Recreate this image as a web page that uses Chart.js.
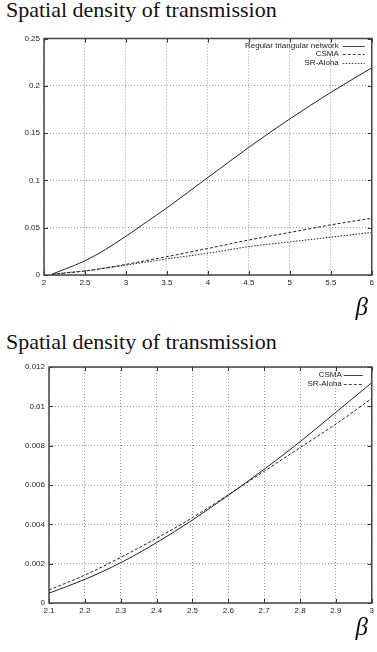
<!DOCTYPE html>
<html>
<head>
<meta charset="utf-8">
<script src="https://cdn.jsdelivr.net/npm/chart.js@4.4.0/dist/chart.umd.min.js"></script>
<style>
  html, body { margin: 0; padding: 0; background: #fff; }
  body { width: 377px; height: 652px; position: relative; overflow: hidden; }
  .titulo {
    position: absolute; left: 6px; margin: 0;
    font-family: "Liberation Serif", "Times New Roman", serif;
    font-size: 22px; font-weight: normal; line-height: 22px; color: #111;
  }
  .beta {
    position: absolute; right: 9px;
    font-family: "Liberation Serif", "Times New Roman", serif;
    font-style: italic; font-size: 25px; line-height: 25px; color: #111;
  }
  .caja { position: absolute; left: 0; width: 377px; }
</style>
</head>
<body>
<div class="titulo" style="top:-1px">Spatial density of transmission</div>
<div class="caja" style="top:28px;height:290px"><canvas id="graficaA"></canvas></div>
<div class="beta" style="top:294px">β</div>

<div class="titulo" style="top:331px">Spatial density of transmission</div>
<div class="caja" style="top:356px;height:296px"><canvas id="graficaB"></canvas></div>
<div class="beta" style="top:614px">β</div>

<script>
/* ── Datos ── */
// Gráfica superior: beta de 2 a 6
const betaA      = [2.1, 2.25, 2.5, 2.75, 3, 3.25, 3.5, 3.75, 4, 4.5, 5, 5.5, 6];
const triangular = [0.001, 0.006, 0.015, 0.027, 0.041, 0.056, 0.071, 0.087, 0.103, 0.135, 0.165, 0.193, 0.219];
const csmaA      = [0.0005, 0.002, 0.0042, 0.0075, 0.0112, 0.0153, 0.0194, 0.0237, 0.028, 0.037, 0.045, 0.053, 0.060];
const alohaA     = [0.0007, 0.0023, 0.0043, 0.0072, 0.0104, 0.0137, 0.017, 0.020, 0.023, 0.030, 0.035, 0.040, 0.045];
const xTicksA    = ['2', '2.5', '3', '3.5', '4', '4.5', '5', '5.5', '6'];
const yTicksA    = ['0', '0.05', '0.1', '0.15', '0.2', '0.25'];

// Gráfica inferior: beta de 2.1 a 3
const betaB   = [2.1, 2.2, 2.3, 2.4, 2.5, 2.6, 2.7, 2.8, 2.9, 3];
const csmaB   = [0.0005, 0.0012, 0.00205, 0.00307, 0.00422, 0.00548, 0.0068, 0.0082, 0.0097, 0.0112];
const alohaB  = [0.00066, 0.00142, 0.00232, 0.00329, 0.00434, 0.0055, 0.0067, 0.0079, 0.0091, 0.0104];
const xTicksB = ['2.1', '2.2', '2.3', '2.4', '2.5', '2.6', '2.7', '2.8', '2.9', '3'];
const yTicksB = ['0', '0.002', '0.004', '0.006', '0.008', '0.01', '0.012'];

const FUENTE = '"Liberation Sans", Arial, sans-serif';
const TINTA  = '#222';

function puntos(xs, ys) {
    return xs.map((x, i) => ({ x: x, y: ys[i] }));
}

function serie(label, xs, ys, dash) {
    return {
        label: label,
        data: puntos(xs, ys),
        borderColor: TINTA,
        borderWidth: 1,
        borderDash: dash,
        pointRadius: 0,
        fill: false,
        cubicInterpolationMode: 'monotone'
    };
}

/* ── Marco, marcas internas y leyenda estilo gnuplot ── */
const marcoGnuplot = {
    id: 'marcoGnuplot',
    afterDatasetsDraw(chart, args, opts) {
        const { ctx, chartArea: a, scales } = chart;
        ctx.save();
        // marcas hacia dentro
        ctx.strokeStyle = '#333';
        ctx.lineWidth = 1;
        ctx.setLineDash([]);
        ctx.beginPath();
        scales.x.ticks.forEach(t => {
            const px = Math.round(scales.x.getPixelForValue(t.value)) + 0.5;
            ctx.moveTo(px, a.bottom); ctx.lineTo(px, a.bottom - 4);
            ctx.moveTo(px, a.top);    ctx.lineTo(px, a.top + 4);
        });
        scales.y.ticks.forEach(t => {
            const py = Math.round(scales.y.getPixelForValue(t.value)) + 0.5;
            ctx.moveTo(a.left, py);  ctx.lineTo(a.left + 4, py);
            ctx.moveTo(a.right, py); ctx.lineTo(a.right - 4, py);
        });
        ctx.stroke();
        // marco
        ctx.strokeStyle = '#444';
        ctx.lineWidth = 1.5;
        ctx.strokeRect(a.left, a.top, a.right - a.left, a.bottom - a.top);
        // leyenda
        ctx.font = '8px ' + FUENTE;
        ctx.fillStyle = TINTA;
        ctx.textAlign = 'right';
        ctx.textBaseline = 'middle';
        chart.data.datasets.forEach((ds, i) => {
            const y = a.top + opts.arriba + i * opts.salto;
            ctx.fillText(ds.label, a.right - opts.texto, y);
            ctx.beginPath();
            ctx.lineWidth = 1;
            ctx.setLineDash(ds.borderDash || []);
            ctx.moveTo(a.right - opts.muestra[0], Math.round(y) + 0.5);
            ctx.lineTo(a.right - opts.muestra[1], Math.round(y) + 0.5);
            ctx.stroke();
        });
        ctx.restore();
    }
};

function opciones(cfg) {
    return {
        responsive: true,
        maintainAspectRatio: false,
        animation: false,
        layout: { padding: { top: cfg.arriba, right: cfg.derecha, left: 0, bottom: 0 } },
        plugins: {
            legend: { display: false },
            tooltip: { enabled: false },
            marcoGnuplot: cfg.leyenda
        },
        scales: {
            x: {
                type: 'linear',
                min: cfg.xMin, max: cfg.xMax,
                afterFit: s => { s.height = cfg.altoX; },
                afterBuildTicks: s => {
                    s.ticks = cfg.xTicks.map(v => ({ value: parseFloat(v) }));
                },
                border: { display: false, dash: [1, 2] },
                grid: { color: '#9a9a9a', lineWidth: 1, drawTicks: false },
                ticks: {
                    padding: 3, color: TINTA, maxRotation: 0, autoSkip: false,
                    font: { family: FUENTE, size: 8 },
                    callback: (val, i) => cfg.xTicks[i]
                }
            },
            y: {
                min: 0, max: cfg.yMax,
                afterFit: s => { s.width = cfg.anchoY; },
                afterBuildTicks: s => {
                    s.ticks = cfg.yTicks.map(v => ({ value: parseFloat(v) }));
                },
                border: { display: false, dash: [1, 2] },
                grid: { color: '#9a9a9a', lineWidth: 1, drawTicks: false },
                ticks: {
                    padding: 4, color: TINTA, autoSkip: false,
                    font: { family: FUENTE, size: 8 },
                    callback: (val, i) => cfg.yTicks[i]
                }
            }
        }
    };
}

new Chart(document.getElementById('graficaA'), {
    type: 'line',
    data: {
        datasets: [
            serie('Regular triangular network', betaA, triangular, []),
            serie('CSMA', betaA, csmaA, [3, 2]),
            serie('SR-Aloha', betaA, alohaA, [1.5, 1.5])
        ]
    },
    options: opciones({
        arriba: 10.5, derecha: 3, altoX: 43, anchoY: 44,
        xMin: 2, xMax: 6, yMax: 0.25, xTicks: xTicksA, yTicks: yTicksA,
        leyenda: { arriba: 7, salto: 8.5, texto: 33, muestra: [29, 7] }
    }),
    plugins: [marcoGnuplot]
});

new Chart(document.getElementById('graficaB'), {
    type: 'line',
    data: {
        datasets: [
            serie('CSMA', betaB, csmaB, []),
            serie('SR-Aloha', betaB, alohaB, [3, 2])
        ]
    },
    options: opciones({
        arriba: 11, derecha: 2, altoX: 49, anchoY: 49,
        xMin: 2.1, xMax: 3, yMax: 0.012, xTicks: xTicksB, yTicks: yTicksB,
        leyenda: { arriba: 8, salto: 9, texto: 30, muestra: [28, 9] }
    }),
    plugins: [marcoGnuplot]
});
</script>
</body>
</html>
